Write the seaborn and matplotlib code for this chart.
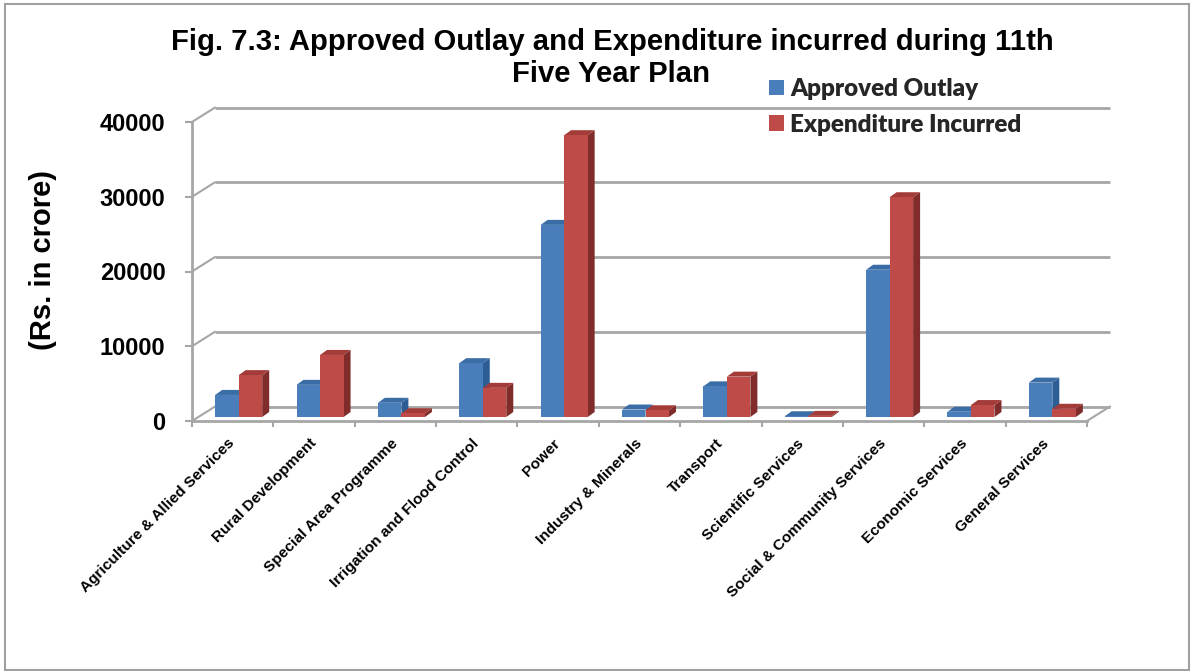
import matplotlib
matplotlib.use('Agg')
import matplotlib.pyplot as plt
from matplotlib.patches import Polygon, Rectangle
from matplotlib.transforms import Affine2D
import pandas as pd
import seaborn as sns

categories = ['Agriculture & Allied Services', 'Rural Development', 'Special Area Programme',
              'Irrigation and Flood Control', 'Power', 'Industry & Minerals', 'Transport',
              'Scientific Services', 'Social & Community Services', 'Economic Services',
              'General Services']
approved = [2950, 4300, 1900, 7200, 25700, 1000, 4100, 100, 19700, 700, 4600]
expenditure = [5600, 8300, 500, 3900, 37700, 900, 5400, 150, 29400, 1600, 1100]
series_names = ['Approved Outlay', 'Expenditure Incurred']
y_ticks = [0, 10000, 20000, 30000, 40000]

W, H = 1192, 671
X0, X1, Y_BASE, Y_TOP = 192, 1087, 421, 122
GRID = '#a6a6a6'

df = pd.DataFrame({
    'category': categories * 2,
    'value': approved + expenditure,
    'series': [series_names[0]] * len(categories) + [series_names[1]] * len(categories),
})

sns.set_theme(style='white')
plt.rcParams['font.family'] = ['Liberation Sans', 'DejaVu Sans']

fig = plt.figure(figsize=(W / 100, H / 100), dpi=100)
ax = fig.add_axes([X0 / W, 1 - Y_BASE / H, (X1 - X0) / W, (Y_BASE - Y_TOP) / H])
ax.patch.set_alpha(0)

sns.barplot(data=df, x='category', y='value', hue='series', palette=['#4a7ebb', '#be4b48'],
            saturation=1, width=0.578, gap=0, dodge=True, ax=ax, zorder=3, linewidth=0)

ax.set_xlim(-0.5, 10.5)
ax.set_ylim(0, 40000)

# pixel -> data
px_x = (10.5 + 0.5) / (X1 - X0)
px_y = 40000 / (Y_BASE - Y_TOP)

# walls of the fake 3d box
wall_x, wall_y = 23 * px_x, 14.5 * px_y
for v in y_ticks:
    ax.plot([-0.5 + wall_x, 10.5 + wall_x], [v + wall_y, v + wall_y], color=GRID, lw=2,
            clip_on=False, zorder=1, solid_capstyle='butt')
    ax.plot([-0.5, -0.5 + wall_x], [v, v + wall_y], color=GRID, lw=1.5, clip_on=False, zorder=1)
ax.plot([10.5, 10.5 + wall_x], [0, wall_y], color=GRID, lw=1.5, clip_on=False, zorder=1)

# bars sit in the middle of the floor, add side and top faces
shift_x, shift_y = 6 * px_x, 4 * px_y
depth_x, depth_y = 7 * px_x, 5 * px_y
side_cols = ['#2c5d94', '#7f2c2a']
top_cols = ['#3a6ca6', '#a33b38']
for i, cont in enumerate(ax.containers):
    z = 3 + i
    for bar in cont:
        bar.set_x(bar.get_x() + shift_x)
        bar.set_y(shift_y)
        bar.set_zorder(z + 0.5)
        bar.set_clip_on(False)
        x0 = bar.get_x()
        x1 = x0 + bar.get_width()
        y0 = shift_y
        y1 = y0 + bar.get_height()
        ax.add_patch(Polygon([(x1, y0), (x1 + depth_x, y0 + depth_y), (x1 + depth_x, y1 + depth_y), (x1, y1)],
                             fc=side_cols[i], ec='none', zorder=z, clip_on=False))
        ax.add_patch(Polygon([(x0, y1), (x0 + depth_x, y1 + depth_y), (x1 + depth_x, y1 + depth_y), (x1, y1)],
                             fc=top_cols[i], ec='none', zorder=z, clip_on=False))

sns.despine(ax=ax)
for s in ['left', 'bottom']:
    ax.spines[s].set_color(GRID)
    ax.spines[s].set_linewidth(2)
    ax.spines[s].set_zorder(8)

ax.set_yticks(y_ticks)
ax.set_yticklabels([str(v) for v in y_ticks], fontsize=17, fontweight='bold', color='black')
ax.tick_params(axis='y', left=True, length=5, width=1.5, color=GRID, pad=14)

ax.set_xticks(range(len(categories)))
ax.set_xticks([i - 0.5 for i in range(len(categories) + 1)], minor=True)
ax.tick_params(axis='x', which='major', length=0, pad=11)
ax.tick_params(axis='x', which='minor', bottom=True, length=4, width=1.5, color=GRID)
ax.set_xticklabels(categories, rotation=45, ha='right', va='top', rotation_mode='anchor',
                   fontsize=11.1, fontweight='bold', color='black')
# labels end a little left of the tick position
for lab in ax.get_xticklabels():
    lab.set_transform(lab.get_transform() + Affine2D().translate(-5, 0))
ax.set_xlabel('')
ax.set_ylabel('')

fig.text(43 / W, 1 - 260 / H, '(Rs. in crore)', rotation=90, ha='center', va='center',
         fontsize=21, fontweight='bold', color='black')
fig.text(612 / W, 1 - 42 / H, 'Fig. 7.3: Approved Outlay and Expenditure incurred during 11th',
         ha='center', va='center', fontsize=21.1, fontweight='bold', color='black')
fig.text(611 / W, 1 - 74 / H, 'Five Year Plan',
         ha='center', va='center', fontsize=21.1, fontweight='bold', color='black')

handles, labels = ax.get_legend_handles_labels()
ax.legend(handles, labels, loc='upper left', bbox_to_anchor=(769 / W, 1 - 78 / H),
          bbox_transform=fig.transFigure, frameon=False, handlelength=0.63, handleheight=0.63,
          handletextpad=0.25, labelspacing=0.56, borderpad=0, borderaxespad=0,
          prop={'family': 'Lato', 'weight': 'heavy', 'size': 17.4}, title=None)

# border of the picture
fig.add_artist(Rectangle((5 / W, 1 / H), 1184 / W, 666 / H, transform=fig.transFigure,
                         fc='none', ec='#a0a0a0', lw=1.5))

fig.savefig('out.png', dpi=100)
